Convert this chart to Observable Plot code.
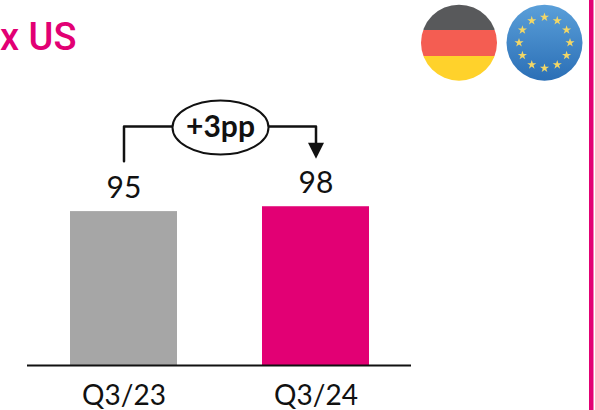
<!DOCTYPE html>
<html><head><meta charset="utf-8">
<script src="https://cdn.jsdelivr.net/npm/d3@7"></script>
<script src="https://cdn.jsdelivr.net/npm/@observablehq/plot@0.6"></script>
<style>html,body{margin:0;padding:0;background:#fff;overflow:hidden}svg{display:block}</style>
</head><body>
<script>
const categories = ["Q3/23", "Q3/24"];
const values = [95, 98];
const barColors = ["#a6a6a6", "#e20074"];
const connector = [["Q3/23", 126], ["Q3/23", 147.5], ["Q3/24", 147.5], ["Q3/24", 132]];
const deltaLabel = "+3pp";
const titleText = "x US";
const font = "Lato, sans-serif";

const bars = categories.map((c, i) => ({c, v: values[i], color: barColors[i]}));
const links = connector.map(([c, v]) => ({c, v}));

const ellipseSymbol = {draw(ctx) {
  const rx = 48, ry = 27, k = 0.5523;
  ctx.moveTo(-rx, 0);
  ctx.bezierCurveTo(-rx, -k * ry, -k * rx, -ry, 0, -ry);
  ctx.bezierCurveTo(k * rx, -ry, rx, -k * ry, rx, 0);
  ctx.bezierCurveTo(rx, k * ry, k * rx, ry, 0, ry);
  ctx.bezierCurveTo(-k * rx, ry, -rx, k * ry, -rx, 0);
  ctx.closePath();
}};
const arrowSymbol = {draw(ctx) {
  ctx.moveTo(-8, -8); ctx.lineTo(8, -8); ctx.lineTo(0, 8); ctx.closePath();
}};

function decorations() {
  const g = d3.create("svg:g");
  const defs = g.append("defs");
  defs.append("clipPath").attr("id", "deClip").append("circle").attr("cx", 459).attr("cy", 42.7).attr("r", 38);
  const grad = defs.append("linearGradient").attr("id", "euGrad").attr("x1", 0).attr("x2", 0).attr("y1", 0).attr("y2", 1);
  grad.append("stop").attr("offset", 0).attr("stop-color", "#5a9fd9");
  grad.append("stop").attr("offset", 1).attr("stop-color", "#2b6fb6");
  const de = g.append("g").attr("clip-path", "url(#deClip)");
  [["#58595b", 4, 26], ["#f45d52", 30, 26], ["#ffd22b", 56, 26]].forEach(([f, y, h]) =>
    de.append("rect").attr("x", 420).attr("y", y).attr("width", 78).attr("height", h).attr("fill", f));
  g.append("circle").attr("cx", 544.5).attr("cy", 42.7).attr("r", 38).attr("fill", "url(#euGrad)");
  const star = d3.symbol(d3.symbolStar, 26)();
  d3.range(12).forEach(i => {
    const a = i * Math.PI / 6;
    g.append("path").attr("d", star).attr("fill", "#f3d766")
      .attr("transform", `translate(${544.5 + 25.5 * Math.sin(a)},${42.7 - 25.5 * Math.cos(a)})`);
  });
  g.append("rect").attr("x", 589).attr("y", 0).attr("width", 4.5).attr("height", 410).attr("fill", "#e20074");
  return g.node();
}

const chart = Plot.plot({
  width: 595, height: 410,
  marginLeft: 27, marginRight: 184, marginTop: 0, marginBottom: 45,
  style: {background: "#fff", fontFamily: font},
  x: {domain: categories, type: "band", paddingInner: 0.443, paddingOuter: 0.2215, label: null},
  y: {domain: [0, 225.3], axis: null},
  marks: [
    Plot.barY(bars, {x: "c", y: "v", fill: "color"}),
    Plot.ruleY([0], {stroke: "#111", strokeWidth: 2}),
    Plot.axisX({tickSize: 0, tickPadding: 20, fontSize: 28, color: "#111", fontWeight: 400, label: null}),
    Plot.text(bars, {x: "c", y: "v", text: d => String(d.v), dy: -23, fontSize: 30, fill: "#111"}),
    Plot.line(links, {x: "c", y: "v", stroke: "#111", strokeWidth: 2.5}),
    Plot.dot([links[3]], {x: "c", y: "v", dy: -1, symbol: arrowSymbol, fill: "#111", stroke: "none", r: 8}),
    Plot.dot([links[1]], {x: "c", y: "v", dx: 96.5, dy: 1, symbol: ellipseSymbol, fill: "#fff", stroke: "#111", strokeWidth: 2, r: 26}),
    Plot.text([deltaLabel], {x: () => "Q3/23", y: () => links[1].v, text: d => d, dx: 96.5, dy: 1, fontSize: 30, fontWeight: 700, fill: "#111"}),
    Plot.text([titleText], {frameAnchor: "top-left", dx: 49, dy: 23, text: d => d, textAnchor: "end", fontFamily: "Roboto, sans-serif", fontSize: 38, fontWeight: 500, letterSpacing: "-0.5px", fill: "#e20074"}),
    decorations
  ]
});
document.body.appendChild(chart);
</script>
</body></html>
